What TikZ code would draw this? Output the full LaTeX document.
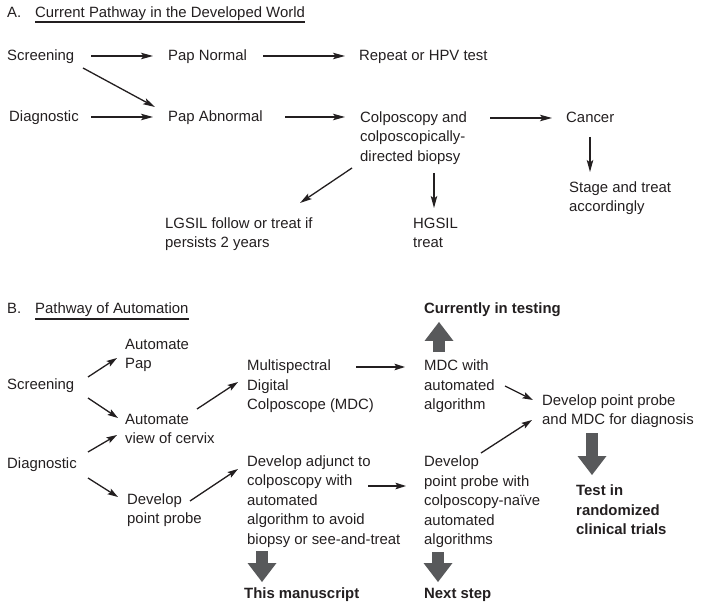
\documentclass[tikz,border=0pt]{standalone}
\usepackage{fontspec}
\setmainfont{Liberation Sans}
\usetikzlibrary{arrows.meta}
\definecolor{txt}{HTML}{231F20}
\definecolor{bigc}{HTML}{58595B}
% stacked lines whose baseline is the first line's baseline
\newcommand\linesbox[1]{\vtop{\halign{##\hfil\cr#1\crcr}}}
\begin{document}
\begin{tikzpicture}[x=1pt,y=-1pt,
  every node/.style={inner sep=0pt, anchor=base west, text=txt, font=\fontsize{14.9}{19.5}\selectfont},
  boldlbl/.style={font=\fontsize{14.9}{19.5}\selectfont\bfseries},
  arr/.style={draw=txt, line width=1.3pt, -{Stealth[length=12pt,width=6.5pt,inset=2.5pt]}},
  sarr/.style={draw=txt, line width=1.3pt, -{Stealth[length=10.5pt,width=6.5pt,inset=2pt]}},
  bigarr/.style={draw=bigc, line width=12pt, -{Triangle[length=19pt,width=29pt,line width=0pt]}},
  uline/.style={draw=txt, line width=1.1pt}]
\useasboundingbox (0,0) rectangle (701,609);

% ---------- Part A ----------
\node (Alab) at (7,17.5) {A.};
\node (tA) at (35,17.5) {Current Pathway in the Developed World};
\draw[uline] ([shift={(0,4.5)}]tA.base west) -- ([shift={(0,4.5)}]tA.base east);

\node (scrA) at (7,60.5) {Screening};
\node (pn) at (168,60.5) {Pap Normal};
\node (rep) at (359,60.5) {Repeat or HPV test};
\node (diaA) at (9,121.5) {Diagnostic};
\node (pa) at (168,121.5) {Pap Abnormal};
\node (colpo) at (360,122.5) {\linesbox{Colposcopy and\cr colposcopically-\cr directed biopsy}};
\node (cancer) at (566,122.5) {Cancer};
\node (stage) at (569,192.5) {\linesbox{Stage and treat\cr accordingly}};
\node (hgsil) at (413,228.5) {\linesbox{HGSIL\cr treat}};
\node (lgsil) at (165,228.5) {\linesbox{LGSIL follow or treat if\cr persists 2 years}};

\draw[arr] ([shift={(84,-4.5)}]scrA.base west) -- ([shift={(-15,-4.5)}]pn.base west);
\draw[arr] ([shift={(76,7.5)}]scrA.base west) -- ([shift={(-13,-14.5)}]pa.base west);
\draw[arr] ([shift={(82,-4.5)}]diaA.base west) -- ([shift={(-15,-4.5)}]pa.base west);
\draw[arr] ([shift={(95,-4.5)}]pn.base west) -- ([shift={(-14,-4.5)}]rep.base west);
\draw[arr] ([shift={(117,-4.5)}]pa.base west) -- ([shift={(-15,-5.5)}]colpo.base west);
\draw[arr] ([shift={(130,-4.5)}]colpo.base west) -- ([shift={(-14,-4.5)}]cancer.base west);
\draw[arr] ([shift={(24,14.5)}]cancer.base west) -- ([shift={(21,-20.5)}]stage.base west);
\draw[arr] ([shift={(74,50.5)}]colpo.base west) -- ([shift={(21,-20.5)}]hgsil.base west);
\draw[arr] ([shift={(-8,45.5)}]colpo.base west) -- ([shift={(135,-25.5)}]lgsil.base west);

% ---------- Part B ----------
\node (Blab) at (7,314) {B.};
\node (tB) at (35,314) {Pathway of Automation};
\draw[uline] ([shift={(0,5)}]tB.base west) -- ([shift={(0,5)}]tB.base east);

\node (ap) at (125,349) {\linesbox{Automate\cr Pap}};
\node (scrB) at (7,389.5) {Screening};
\node (view) at (125,424) {\linesbox{Automate\cr view of cervix}};
\node (msdc) at (247,370.5) {\linesbox{Multispectral\cr Digital\cr Colposcope (MDC)}};
\node (diaB) at (7,468) {Diagnostic};
\node (pp) at (127,504) {\linesbox{Develop\cr point probe}};
\node (adj) at (247,466) {\linesbox{Develop adjunct to\cr colposcopy with\cr automated\cr algorithm to avoid\cr biopsy or see-and-treat}};
\node (ppw) at (424,466.5) {\linesbox{Develop\cr point probe with\cr colposcopy-na\"ive\cr automated\cr algorithms}};
\node (mdcw) at (424,370.5) {\linesbox{MDC with\cr automated\cr algorithm}};
\node[boldlbl] (cur) at (424,313.5) {Currently in testing};
\node (dev) at (542,405) {\linesbox{Develop point probe\cr and MDC for diagnosis}};
\node[boldlbl] (test) at (576,495.5) {\linesbox{Test in\cr randomized\cr clinical trials}};
\node[boldlbl] (thism) at (244,598.5) {This manuscript};
\node[boldlbl] (next) at (424,598.5) {Next step};

\draw[sarr] ([shift={(81,-12.5)}]scrB.base west) -- ([shift={(-8,9)}]ap.base west);
\draw[sarr] ([shift={(81,8.5)}]scrB.base west) -- ([shift={(-7,-6)}]view.base west);
\draw[sarr] ([shift={(81,-16)}]diaB.base west) -- ([shift={(-8,11)}]view.base west);
\draw[sarr] ([shift={(81,10)}]diaB.base west) -- ([shift={(-9,-7)}]pp.base west);
\draw[sarr] ([shift={(72,-15)}]view.base west) -- ([shift={(-9,11.5)}]msdc.base west);
\draw[sarr] ([shift={(63,-3)}]pp.base west) -- ([shift={(-9,3)}]adj.base west);
\draw[sarr] ([shift={(109,-3.5)}]msdc.base west) -- ([shift={(-19,-3.5)}]mdcw.base west);
\draw[sarr] ([shift={(121,20)}]adj.base west) -- ([shift={(-18,19.5)}]ppw.base west);
\draw[sarr] ([shift={(81,15.5)}]mdcw.base west) -- ([shift={(-9,-5)}]dev.base west);
\draw[sarr] ([shift={(57,-13.5)}]ppw.base west) -- ([shift={(-10,15)}]dev.base west);

\draw[bigarr] ([shift={(15,-18.5)}]mdcw.base west) -- ([shift={(15,8.5)}]cur.base west);
\draw[bigarr] ([shift={(50,28)}]dev.base west) -- ([shift={(16,-20.5)}]test.base west);
\draw[bigarr] ([shift={(15,85)}]adj.base west) -- ([shift={(18,-16.5)}]thism.base west);
\draw[bigarr] ([shift={(14,85.5)}]ppw.base west) -- ([shift={(14,-16.5)}]next.base west);
\end{tikzpicture}
\end{document}
